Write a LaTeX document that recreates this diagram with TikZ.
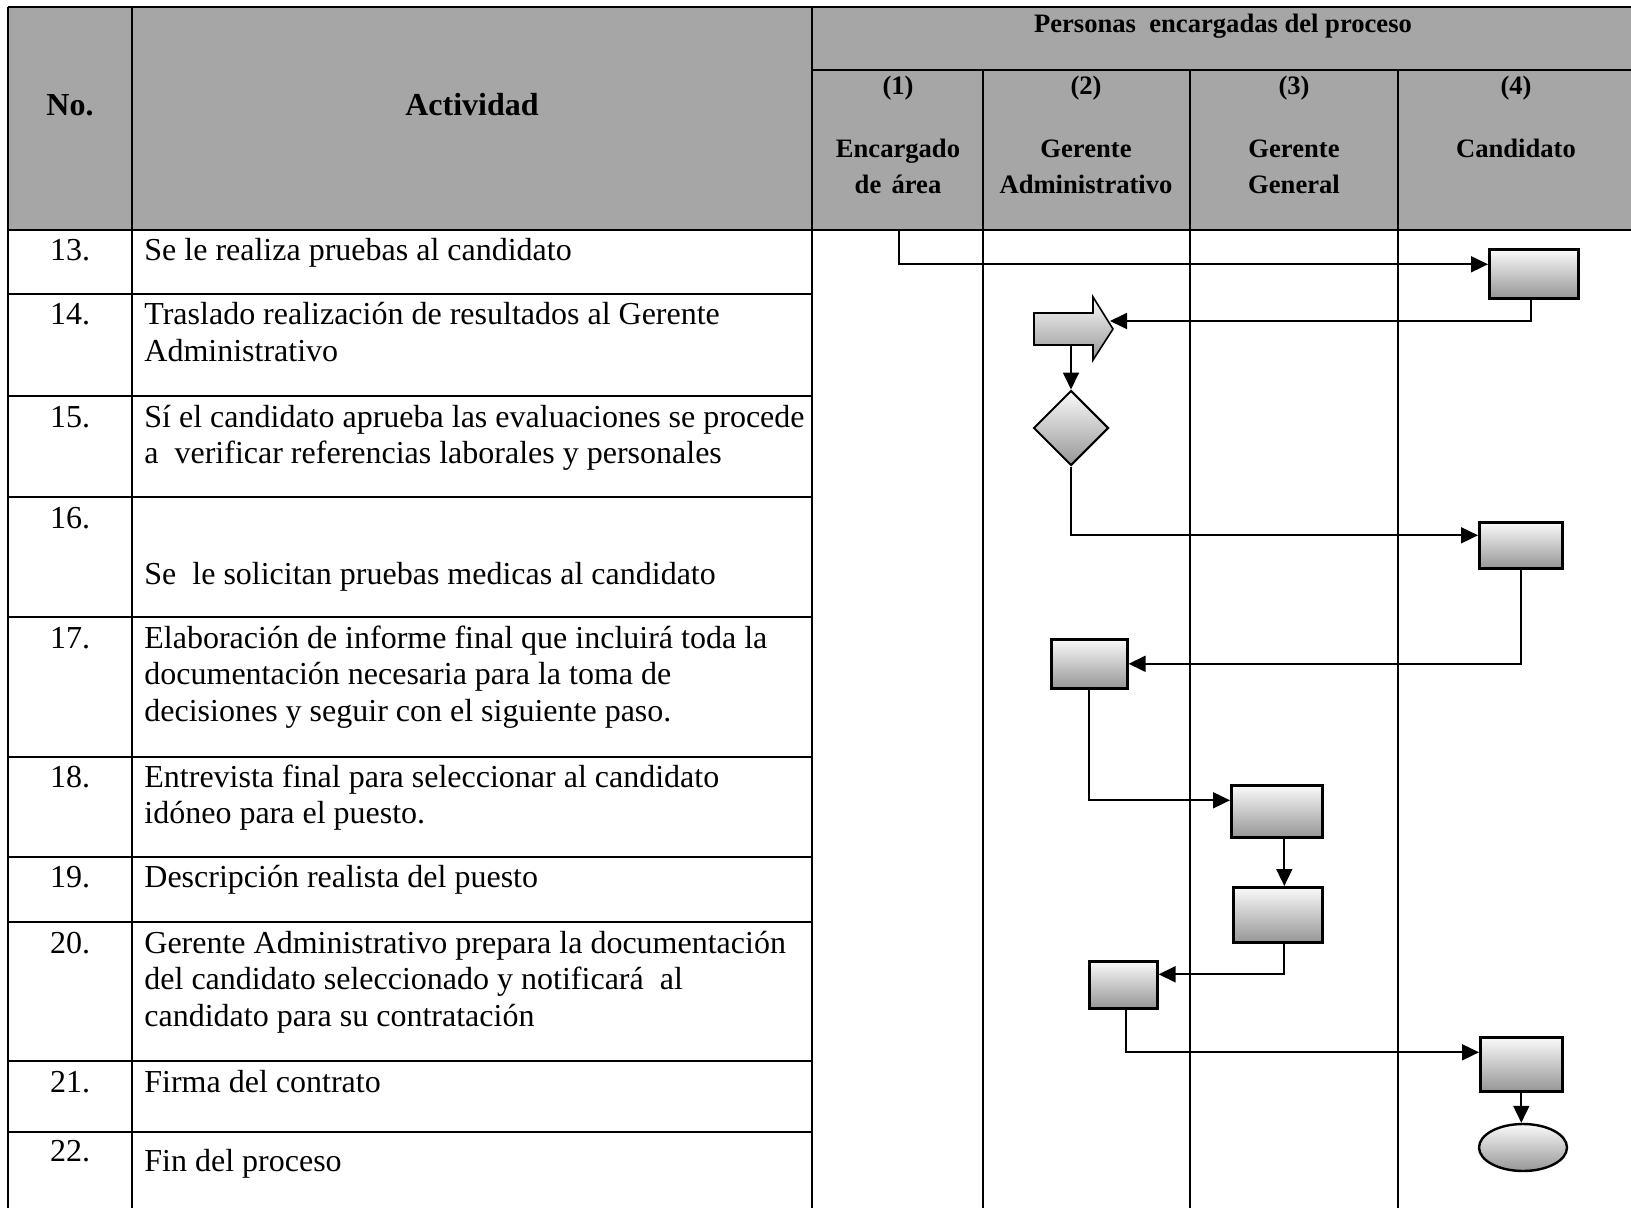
\documentclass[tikz,border=0pt]{standalone}
\usepackage{fontspec}
\setmainfont{Liberation Serif}
\usetikzlibrary{arrows.meta,shapes.geometric,calc}

\definecolor{headgray}{RGB}{166,166,166}
\definecolor{shadelight}{RGB}{250,250,250}
\definecolor{shadedark}{RGB}{150,150,150}

\begin{document}
\begin{tikzpicture}[x=0.5pt,y=-0.5pt,
  gridline/.style={line width=1.1pt},
  natspace/.style={execute at begin node={\spaceskip=0pt\xspaceskip=0pt}},
  numtxt/.style={anchor=base, inner sep=0, font=\fontsize{16}{18.3}\selectfont},
  acttxt/.style={anchor=base west, inner sep=0, text width=340pt, align=left, natspace,
                 font=\fontsize{16}{18.3}\selectfont},
  headbig/.style={anchor=base, inner sep=0, font=\fontsize{16}{18}\selectfont\bfseries},
  lanehead/.style={anchor=base, inner sep=0, text width=100pt, align=center, natspace,
                   font=\fontsize{13.3}{18}\selectfont\bfseries},
  shaded/.style={top color=shadelight, bottom color=shadedark},
  stepbox/.style={rectangle, draw, line width=1.3pt, inner sep=0, anchor=north west, shaded},
  decision/.style={diamond, draw, line width=1pt, inner sep=0, shaded,
                   minimum width=37.5pt, minimum height=37.5pt},
  terminal/.style={ellipse, draw, line width=1.2pt, inner sep=0, shaded,
                   minimum width=44pt, minimum height=23.5pt},
  conn/.style={line width=0.9pt, -{Triangle[length=8.5pt,width=8pt]}},
]
\useasboundingbox (0,0) rectangle (1631,1208);
\clip (0,0) rectangle (1631,1208);

% ---------- table frame ----------
\fill[headgray] (8,7) rectangle (1634,230);
\draw[gridline] (8,7) -- (1634,7);
\draw[gridline] (812,70) -- (1634,70);
\draw[gridline] (8,230) -- (1634,230);
\foreach \yy in {294,396,497,617,757,857,922,1061,1132}
  \draw[gridline] (8,\yy) -- (812,\yy);
\foreach \xx in {8,132,812,1634}
  \draw[gridline] (\xx,7) -- (\xx,1208);
\foreach \xx in {983,1190,1398}
  \draw[gridline] (\xx,70) -- (\xx,1208);

% ---------- header ----------
\node[headbig] (hno) at (70,116) {No.};
\node[headbig] (hact) at (472,116) {Actividad};
\node[anchor=base, inner sep=0, font=\fontsize{13.3}{18}\selectfont\bfseries] (hpers) at (1223,33)
  {Personas\ \ encargadas del proceso};
\node[lanehead] (l1n) at (898,95) {(1)};
\node[lanehead] (l2n) at (1086,95) {(2)};
\node[lanehead] (l3n) at (1294,95) {(3)};
\node[lanehead] (l4n) at (1516,95) {(4)};
\node[lanehead] (l1) at (898,158) {Encargado\\de área};
\node[lanehead] (l2) at (1086,158) {Gerente\\Administrativo};
\node[lanehead] (l3) at (1294,158) {Gerente\\General};
\node[lanehead] (l4) at (1516,158) {Candidato};

% ---------- activity rows ----------
\node[numtxt] (n13) at (70,261) {13.};
\node[acttxt] (t13) at (144,261) {Se le realiza pruebas al candidato};
\node[numtxt] (n14) at (70,325) {14.};
\node[acttxt] (t14) at (144,325) {Traslado realización de resultados al Gerente\\Administrativo};
\node[numtxt] (n15) at (70,427) {15.};
\node[acttxt] (t15) at (144,427) {Sí el candidato aprueba las evaluaciones se procede\\a\ \ verificar referencias laborales y personales};
\node[numtxt] (n16) at (70,528) {16.};
\node[acttxt] (t16) at (144,584) {Se\ \ le solicitan pruebas medicas al candidato};
\node[numtxt] (n17) at (70,648) {17.};
\node[acttxt] (t17) at (144,648) {Elaboración de informe final que incluirá toda la\\documentación necesaria para la toma de\\decisiones y seguir con el siguiente paso.};
\node[numtxt] (n18) at (70,787) {18.};
\node[acttxt] (t18) at (144,787) {Entrevista final para seleccionar al candidato\\idóneo para el puesto.};
\node[numtxt] (n19) at (70,887) {19.};
\node[acttxt] (t19) at (144,887) {Descripción realista del puesto};
\node[numtxt] (n20) at (70,953) {20.};
\node[acttxt] (t20) at (144,953) {Gerente Administrativo prepara la documentación\\del candidato seleccionado y notificará\ \ al\\candidato para su contratación};
\node[numtxt] (n21) at (70,1092) {21.};
\node[acttxt] (t21) at (144,1092) {Firma del contrato};
\node[numtxt] (n22) at (70,1161) {22.};
\node[acttxt] (t22) at (144,1171) {Fin del proceso};

% ---------- flow symbols ----------
\coordinate (s13) at (899,230);
\node[stepbox, minimum width=44.5pt, minimum height=24.5pt] (b13) at (1488,248) {};

% transfer arrow (step 14): shaft node plus drawn arrow head
\node[inner sep=0, outer sep=0, minimum width=29.5pt, minimum height=16pt, anchor=north west] (a14) at (1034,313) {};
\path[draw, line width=0.8pt, shaded]
  (a14.north west) -- (a14.north east) -- ([yshift=8pt]a14.north east)
  -- ([xshift=10pt]a14.east) -- ([yshift=-7.5pt]a14.south east)
  -- (a14.south east) -- (a14.south west) -- cycle;
\coordinate (a14in) at ([xshift=8.5pt,yshift=4pt]a14.east);

\node[decision] (d15) at (1071,428) {};
\node[stepbox, minimum width=41.5pt, minimum height=23pt] (b16) at (1478,521) {};
\node[stepbox, minimum width=38pt, minimum height=24.5pt] (b17) at (1050,638) {};
\node[stepbox, minimum width=45.5pt, minimum height=26pt] (b18) at (1230,784) {};
\node[stepbox, minimum width=44.5pt, minimum height=27.5pt] (b19) at (1232,886) {};
\node[stepbox, minimum width=34pt, minimum height=23.5pt] (b20) at (1088,960) {};
\node[stepbox, minimum width=41pt, minimum height=27pt] (b21) at (1479,1036) {};
\node[terminal] (e22) at (1523,1147.5) {};

% ---------- connectors ----------
\draw[conn] (s13) |- ([yshift=4.75pt]b13.west);
\draw[conn] ([xshift=-1.25pt]b13.south) |- (a14in);
\draw[conn] (d15.north |- a14.south) -- (d15.north);
\draw[conn] (d15.south) |- ([yshift=5pt]b16.west);
\draw[conn] (b16.south) |- (b17.east);
\draw[conn] (b17.south) |- ([yshift=5.5pt]b18.west);
\draw[conn] ([xshift=3.75pt]b18.south) -- ([xshift=3.75pt]b18.south |- b19.north);
\draw[conn] ([xshift=3.25pt]b19.south) |- ([yshift=5.25pt]b20.east);
\draw[conn] ([xshift=1.5pt]b20.south) |- ([yshift=6pt]b21.west);
\draw[conn] (b21.south) -- (b21.south |- e22.north);
\end{tikzpicture}
\end{document}
